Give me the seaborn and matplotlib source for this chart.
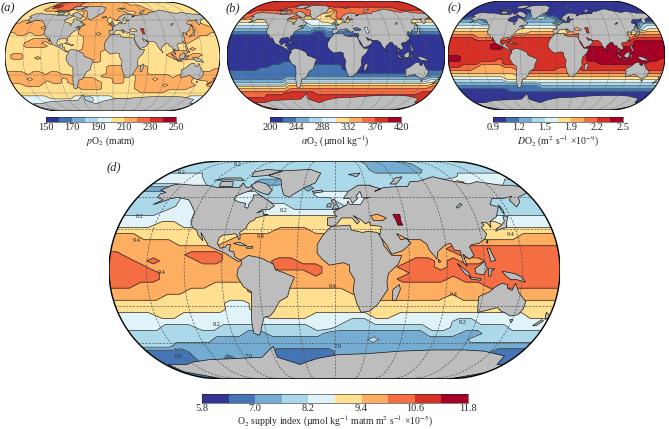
import numpy as np
import matplotlib
matplotlib.use("Agg")
import matplotlib.pyplot as plt
from matplotlib.colors import ListedColormap
from matplotlib.patches import Polygon
import seaborn as sns

W, H = 669, 429
CENTER_LON = -3

COLORS = ["#313695", "#4575b4", "#74add1", "#abd9e9", "#e0f3f8",
          "#fee090", "#fdae61", "#f46d43", "#d73027", "#a50026"]
LAND = "#bdbdbd"

LATS = np.arange(87.5, -90, -5.0)
LONS = np.arange(-175.0, 180, 10.0)

# class index per 5 deg lat row / 10 deg lon column
GRID_A = [
    "555577777766666666666655555555555555",
    "555588777766666666666666655555555555",
    "555666777566666666655666665555555555",
    "555555565555666666666556666555555555",
    "555555555555666666666666655555555555",
    "555555555555566665665555555555566655",
    "566666655555666665555555555556666655",
    "666666665555566666555555555556666665",
    "666665665555666666555555555556656666",
    "666666655555666666555555555556666666",
    "566566555555666566555555555556666665",
    "555555555555566666655555555556666555",
    "555566665555566665555555555556665555",
    "555666565555566665555555555555655555",
    "555666655555566665555555555555555555",
    "555555555555566665555555555555565555",
    "555555555555666655555555555566655555",
    "566555555555666655555555555666566555",
    "566556555555666655555555555566665555",
    "555555555555666655555555555555555555",
    "555555555555565555555555555555555555",
    "555555555555555556665566555555555555",
    "555555555555555556665666555555555556",
    "666566566555555556665666555555556666",
    "666666666665555566665566666656666666",
    "666566666566666555665566656666665666",
    "666666566566666655665566666666665556",
    "556665555556666655555566666566666556",
    "555555555555666655555566666666665555",
    "555555555555555555555556666655555555",
    "555555555555555555555555555555555555",
    "444445555544334444555555555555555444",
    "444444444443334444444444555555544444",
    "444444444444444444444444444444444444",
    "444444444444444444444444444444444444",
    "444444444444444444444444444444444444",
]
GRID_B = [
    "888888888888888888888888888888888888",
    "888888888777778888888888888888888888",
    "888888877777766667777777777777788888",
    "877777777777777665777777777777777777",
    "777777777777765556777777777777777777",
    "766666777775555556777777777766666677",
    "555555555554444555555555555556665555",
    "444444445533344445555555555555444444",
    "333333333333233333333333333333333333",
    "222222222222221122222222222222222222",
    "111111111111110011111111122111111111",
    "000000000000000011110000000000000000",
    "000000000000000000000000000000000000",
    "000000000000000000000000000000000000",
    "000000000000000000000000000000000000",
    "000000000000000000000000000000000000",
    "000000000000000000000000000000000000",
    "000000000000000000000000000000000000",
    "000000000000000000000000000000000000",
    "000000000000000000000000000000000000",
    "000000000110000000000000000000000000",
    "000000011110111111100000000000000000",
    "000001111111111111100000000000000000",
    "111111111111111111111000000000011111",
    "111111111111111111111111111111111111",
    "111111111222222222222222222222222233",
    "222222222333333333333333333333333344",
    "333333333555555555555555555555555556",
    "555555555666666666666666666666666667",
    "666666666777777777777777777777777777",
    "777777778888887777777777777777777788",
    "777788888888888888888888888888888888",
    "888888888888888888888888888888888888",
    "888888888888888888888888888888888888",
    "888888888888888888888888888888888888",
    "888888888888888888888888888888888888",
]
GRID_C = [
    "000000000000000000000000000000000000",
    "000000000000000000000000000000000000",
    "000000000000000000000000000000000000",
    "000000000000011000000000000000000000",
    "000000000000122100000000000000000000",
    "011110000000123321000000000000000000",
    "222210000001222222100000000000000000",
    "333322222222333333222222222211100233",
    "444444444443444444333333333333111344",
    "555555555555555555555555555554333455",
    "666666655555566666556666666555556666",
    "777766666667777777777777777776667777",
    "888877777788888888888888888777788888",
    "888888888888888888888888888888899999",
    "888888899888888888888888889988899999",
    "888888899888888888888889999999999999",
    "888888888888888888888889999999999999",
    "888888888888888888888889999999999999",
    "998888888888888888888889999999999999",
    "998888887888888888888889999999999998",
    "888887777888888888888888899999999888",
    "887776666777888888888888888888888888",
    "777766666667788888777788888888888888",
    "666666666666777777777777777777777777",
    "555555555556666666666666666666666666",
    "444444444555555555555555555555555555",
    "333333333444444444444444444444444444",
    "222222222222222333333333333333333333",
    "111111111111111222222222222222222222",
    "000000000111111111111111111111111111",
    "000000000000000000000000000000000000",
    "000000000000000000000000000000000000",
    "000000000000000000000000000000000000",
    "000000000000000000000000000000000000",
    "000000000000000000000000000000000000",
    "000000000000000000000000000000000000",
]
GRID_D = [
    "333333333333333333333322222233333333",
    "333333333333333333333322222233333333",
    "444433333333333333333333333333344444",
    "444443333322233333333333333344544443",
    "222444333333333233334433333333333333",
    "333344444443333344444443333333333333",
    "333344444444333333444444444333333333",
    "333344444444443333344444444444433333",
    "333444444444444444444444444444433333",
    "444444444445555555555555554444444444",
    "444554444455555555555555555555554444",
    "555555555555566655555555555555555555",
    "665555555566666666666666666655555666",
    "666665555666666666666666666666666666",
    "666666666666666666666666666777777777",
    "766666777666666666666666666677777777",
    "776766677666677666666666776766777777",
    "777666666666677776666667776777777777",
    "777766666666666676666666777777777777",
    "777766666666666666666667777677777777",
    "776666665556666666666666666666777777",
    "666666555556655555566666666666666666",
    "666655555555555555555666666566666666",
    "555555555445555555555555555555555555",
    "555555555445555555555555555555555555",
    "444554444444555544444554444444444455",
    "444444444444444444433444444433444444",
    "444333443333333344333333334433333444",
    "333333333322333332222222223332233333",
    "333333322222222222222322222222333333",
    "333222222222222222222222222222222222",
    "111122222222111111222222222222222111",
    "111122212221111111222222222222222111",
    "111122222221111111222222222222222111",
    "111122222221111111222222222222222111",
    "111122222221111111222222222222222111",
]

TICKS_A = ["150", "170", "190", "210", "230", "250"]
TICKS_B = ["200", "244", "288", "332", "376", "420"]
TICKS_C = ["0.9", "1.2", "1.5", "1.9", "2.2", "2.5"]
TICKS_D = ["5.8", "7.0", "8.2", "9.4", "10.6", "11.8"]

# land outlines as lon, lat
NORTH_AMERICA = [(-168, 66), (-162, 70), (-156, 71), (-141, 70), (-128, 70), (-115, 68), (-108, 68),
                 (-95, 68), (-94, 72), (-88, 68), (-82, 69), (-81, 66), (-87, 64), (-94, 61), (-94, 58),
                 (-88, 56), (-82, 55), (-82, 52), (-79, 51), (-79, 55), (-77, 58), (-78, 62), (-72, 62),
                 (-66, 59), (-62, 57), (-56, 53), (-60, 50), (-66, 50), (-70, 47), (-65, 49), (-64, 46),
                 (-60, 46), (-66, 44), (-70, 43), (-71, 41), (-74, 40), (-76, 37), (-76, 35), (-81, 31),
                 (-80, 26), (-81, 25), (-83, 29), (-85, 30), (-90, 29), (-94, 29), (-97, 27), (-98, 22),
                 (-95, 18), (-91, 19), (-90, 21), (-87, 21), (-88, 16), (-84, 15), (-83, 11), (-80, 9),
                 (-77, 8), (-80, 7), (-85, 10), (-91, 14), (-96, 16), (-105, 20), (-109, 26), (-113, 31),
                 (-110, 24), (-115, 29), (-117, 33), (-121, 35), (-124, 40), (-124, 48), (-130, 54),
                 (-135, 58), (-146, 60), (-152, 59), (-158, 56), (-164, 54), (-158, 58), (-165, 60),
                 (-165, 63), (-161, 64)]
GREENLAND = [(-73, 78), (-60, 82), (-30, 83), (-18, 80), (-22, 72), (-32, 68), (-42, 62), (-44, 60),
             (-50, 62), (-54, 68), (-58, 75)]
BAFFIN = [(-80, 73), (-70, 71), (-62, 66), (-65, 62), (-72, 64), (-78, 66), (-85, 70)]
VICTORIA = [(-117, 73), (-105, 73), (-102, 69), (-115, 69)]
ELLESMERE = [(-90, 77), (-75, 78), (-62, 82), (-80, 83), (-92, 81)]
BANKS = [(-125, 74), (-116, 76), (-100, 76), (-95, 74), (-112, 74.5)]
ICELAND = [(-24, 65), (-15, 66), (-14, 64.5), (-22, 63.5)]
SOUTH_AMERICA = [(-78, 8), (-72, 12), (-62, 10), (-52, 5), (-50, 0), (-44, -2), (-35, -6), (-39, -15),
                 (-41, -22), (-48, -26), (-53, -34), (-57, -38), (-62, -39), (-65, -45), (-68, -52),
                 (-70, -54), (-74, -52), (-73, -40), (-71, -30), (-70, -18), (-76, -14), (-81, -5),
                 (-80, 1), (-77, 5)]
AFRICA = [(-6, 36), (10, 37), (11, 33), (20, 31), (25, 32), (32, 31), (35, 28), (37, 20), (43, 12),
          (51, 12), (48, 5), (40, -3), (39, -10), (40, -16), (35, -24), (32, -29), (26, -34), (19, -35),
          (15, -27), (12, -17), (13, -8), (9, -1), (9, 4), (4, 6), (-7, 4), (-13, 9), (-17, 14),
          (-17, 21), (-13, 28)]
EURASIA = [(-9, 37), (-9, 43), (-1, 44), (-4, 48), (2, 51), (8, 54), (9, 57), (11, 54), (20, 54), (24, 59),
           (30, 60), (22, 60), (21, 65), (17, 61), (18, 59), (13, 55), (11, 59), (5, 59), (10, 65), (20, 70),
           (30, 70), (41, 67), (35, 65), (44, 68), (60, 69), (68, 69), (73, 73), (80, 73), (100, 77),
           (113, 74), (130, 71), (140, 73), (160, 70), (170, 70), (182, 68), (178, 64), (165, 60), (163, 56),
           (157, 52), (155, 58), (160, 61), (150, 59), (140, 59), (135, 54), (141, 52), (135, 44), (128, 40),
           (127, 35), (125, 39), (120, 39), (122, 37), (119, 35), (122, 30), (120, 26), (114, 22), (108, 21),
           (106, 19), (109, 12), (105, 9), (100, 13), (103, 3), (100, 6), (98, 16), (94, 16), (91, 22),
           (87, 21), (80, 15), (79, 9), (73, 17), (72, 21), (67, 25), (57, 25), (52, 28), (48, 30), (51, 25),
           (56, 26), (59, 22), (52, 16), (43, 13), (39, 21), (34, 28), (36, 36), (27, 37), (26, 40), (23, 38),
           (20, 41), (13, 45), (18, 40), (16, 38), (12, 43), (3, 43), (-1, 38), (-5, 36)]
BRITAIN = [(-5, 50), (1, 51), (-2, 56), (-3, 58.5), (-6, 57), (-3, 54)]
IRELAND = [(-10, 52), (-6, 52), (-6, 55), (-9, 54.5)]
SVALBARD = [(12, 79), (25, 80), (20, 77)]
NOVAYA = [(52, 71), (58, 71), (68, 77), (60, 76)]
MADAGASCAR = [(44, -16), (49, -12), (50, -16), (47, -25), (44, -25)]
SRI_LANKA = [(80, 9), (82, 7), (80.5, 6)]
SUMATRA = [(95, 5.5), (104, -2), (106, -6), (101, -3)]
JAVA = [(105, -6), (114, -7), (114, -8.5), (106, -7.5)]
BORNEO = [(109, 1), (117, 7), (119, 1), (116, -4), (110, -3)]
SULAWESI = [(120, 1), (125, 1), (122, -1), (122, -5), (120, -5)]
NEW_GUINEA = [(131, -1), (141, -3), (147, -6), (150, -10), (143, -8), (138, -8), (133, -4)]
PHILIPPINES = [(120, 18), (122, 18), (124, 12), (126, 8), (122, 7), (121, 13)]
TAIWAN = [(120, 23), (122, 25), (121, 22)]
JAPAN = [(130, 32), (135, 34), (140, 35), (142, 40), (145, 44), (141, 45), (140, 40), (135, 36), (131, 34)]
SAKHALIN = [(142, 54), (143.5, 50), (143, 46), (142, 48)]
CUBA = [(-85, 22), (-80, 23), (-74, 20), (-78, 20)]
HISPANIOLA = [(-74, 19), (-69, 19.5), (-69, 18), (-74, 18)]
AUSTRALIA = [(114, -22), (122, -18), (126, -14), (131, -11), (136, -12), (136, -15), (140, -17), (142, -11),
             (146, -19), (153, -26), (153, -32), (150, -37), (144, -38), (138, -35), (135, -34), (131, -31),
             (124, -33), (116, -35), (115, -31)]
TASMANIA = [(145, -41), (148, -41), (147, -43.5)]
NZ_NORTH = [(173, -35), (178, -38), (175, -41), (174, -39)]
NZ_SOUTH = [(172, -41), (174, -42), (170, -46), (167, -46)]
ANTARCTICA = [(-180, -78), (-160, -78), (-150, -76), (-130, -74), (-100, -73), (-75, -72), (-60, -63),
              (-60, -72), (-40, -78), (-20, -73), (0, -70), (30, -69), (60, -67), (90, -66), (120, -66),
              (140, -67), (165, -71), (170, -78), (180, -78), (180, -90), (-180, -90)]
LAND_SHAPES = [NORTH_AMERICA, GREENLAND, BAFFIN, VICTORIA, ELLESMERE, BANKS, ICELAND, SOUTH_AMERICA,
               AFRICA, EURASIA, BRITAIN, IRELAND, SVALBARD, NOVAYA, MADAGASCAR, SRI_LANKA, SUMATRA, JAVA,
               BORNEO, SULAWESI, NEW_GUINEA, PHILIPPINES, TAIWAN, JAPAN, SAKHALIN, CUBA, HISPANIOLA,
               AUSTRALIA, TASMANIA, NZ_NORTH, NZ_SOUTH, ANTARCTICA]
CASPIAN = [(47, 46), (53, 46), (53, 40), (54, 37), (50, 37), (49, 41)]
BLACK_SEA = [(28, 45), (34, 46), (41, 43), (38, 41), (30, 41)]
LAKE = [(104, 52), (109, 55), (110, 54), (105, 51)]

D_LABELS = [("8.2", 238, 165), ("8.2", 182, 173), ("8.2", 140, 216), ("8.2", 284, 210), ("8.2", 217, 325),
            ("8.2", 463, 323), ("9.4", 261, 236), ("9.4", 137, 240), ("9.4", 162, 273), ("9.4", 511, 235),
            ("9.4", 333, 286), ("9.4", 454, 294), ("7.0", 177, 356), ("7.0", 248, 356), ("7.0", 337, 346)]


def project(lon, lat):
    lon = np.asarray(lon, float)
    lat = np.asarray(lat, float)
    t = 2 * lat / 180
    return lon / 180 * (1 + np.sqrt(np.clip(1 - t ** 2, 0, 1))) / 2, t


def rect(l, t, r, b):
    return [l / W, 1 - b / H, (r - l) / W, (b - t) / H]


def densify(shape):
    pts = np.array(shape + shape[:1], float)
    out = []
    for p, q in zip(pts[:-1], pts[1:]):
        n = max(int(np.abs(q - p).max() // 5), 1)
        out.extend(p + (q - p) * i / n for i in range(n))
    return np.array(out)


def draw_map(fig, box, rows, lo, hi, lw, dashes, gcolor, seas):
    ax = fig.add_axes(rect(*box))
    ax.set_xlim(-1, 1)
    ax.set_ylim(-1, 1)
    ax.axis("off")

    lats = np.r_[90, LATS, -90]
    lons = np.r_[-180, LONS, 180]
    classes = np.array([[int(c) for c in r.ljust(36, r[-1])[:36]] for r in rows], float)
    classes = np.pad(classes, 1, mode="edge")
    levels = np.linspace(lo, hi, 11)
    values = lo + (classes + 0.5) * (hi - lo) / 10
    lon2, lat2 = np.meshgrid(lons, lats)
    x, y = project(lon2, lat2)

    edge_lat = np.linspace(-90, 90, 181)
    ex, ey = project(np.full_like(edge_lat, 180), edge_lat)
    outline = np.c_[np.r_[ex, -ex[::-1]], np.r_[ey, ey[::-1]]]
    frame = Polygon(outline, closed=True, fill=False, ec="black", lw=lw * 2, zorder=6)
    ax.add_patch(frame)

    cf = ax.contourf(x, y, values, levels=levels, colors=COLORS, zorder=1)
    cf.set_clip_path(frame)
    cl = ax.contour(x, y, values, levels=levels, colors="#2a2a2a", linewidths=lw, zorder=2)
    cl.set_clip_path(frame)

    for shape in LAND_SHAPES:
        pts = densify(shape)
        px, py = project(pts[:, 0] - CENTER_LON, pts[:, 1])
        for p in ax.fill(px, py, fc=LAND, ec="#111111", lw=lw, zorder=3):
            p.set_clip_path(frame)
    for shape, cls in seas:
        pts = densify(shape)
        px, py = project(pts[:, 0] - CENTER_LON, pts[:, 1])
        ax.fill(px, py, fc=COLORS[cls], ec="#111111", lw=lw, zorder=3.5)

    for m in np.arange(-150, 151, 30):
        gy = np.linspace(-90, 90, 91)
        gx, gyy = project(np.full_like(gy, m), gy)
        ax.plot(gx, gyy, color=gcolor, lw=lw, ls=dashes, zorder=4)
    for p in (-60, -30, 34, 60):
        gx = np.linspace(-180, 180, 181)
        hx, hy = project(gx, np.full_like(gx, p))
        ax.plot(hx, hy, color=gcolor, lw=lw, ls=dashes, zorder=4)
    return ax


def draw_bar(fig, box, ticks, label, label_y, size, label_size):
    cax = fig.add_axes(rect(*box))
    sns.heatmap(np.arange(10).reshape(1, -1), cmap=ListedColormap(COLORS), cbar=False, ax=cax,
                xticklabels=False, yticklabels=False)
    cax.set_xticks(np.arange(0, 11, 2))
    cax.set_xticklabels(ticks, fontsize=size, rotation=0)
    cax.tick_params(axis="x", length=0, pad=1, bottom=False)
    for s in cax.spines.values():
        s.set_visible(True)
        s.set_linewidth(0.4)
        s.set_color("#222222")
    fig.text((box[0] + box[2]) / 2 / W, 1 - label_y / H, label, ha="center", va="center", fontsize=label_size)


def main():
    sns.set_theme(style="white")
    plt.rcParams["font.family"] = ["Liberation Serif", "DejaVu Serif"]
    plt.rcParams["mathtext.fontset"] = "stix"
    fig = plt.figure(figsize=(W / 100, H / 100), dpi=100)

    small = dict(lw=0.35, dashes=(0, (1.5, 1.5)), gcolor="#555555")
    draw_map(fig, (5, 2, 220, 111), GRID_A, 150, 250, seas=[(CASPIAN, 8), (BLACK_SEA, 5), (LAKE, 5)], **small)
    draw_map(fig, (227, 1, 445, 110), GRID_B, 200, 420, seas=[(CASPIAN, 4), (BLACK_SEA, 1), (LAKE, 5)], **small)
    draw_map(fig, (448, 1, 665, 110), GRID_C, 0.9, 2.5, seas=[(CASPIAN, 8), (BLACK_SEA, 6), (LAKE, 1)], **small)
    draw_map(fig, (109, 161, 560, 379), GRID_D, 5.8, 11.8, lw=0.5, dashes=(0, (3, 2)), gcolor="#555555",
             seas=[(CASPIAN, 9), (BLACK_SEA, 6), (LAKE, 3)])

    draw_bar(fig, (46, 117, 176, 122), TICKS_A, r"$p$O$_2$ (matm)", 141, 7.5, 7)
    draw_bar(fig, (270, 117, 401, 122), TICKS_B, r"$\alpha$O$_2$ (µmol kg$^{-1}$)", 141, 7.5, 7)
    draw_bar(fig, (493, 117, 623, 122), TICKS_C, r"$D$O$_2$ (m$^2$ s$^{-1}$ ×10$^{-9}$)", 141, 7.5, 7)
    draw_bar(fig, (202, 394, 468, 403), TICKS_D,
             r"O$_2$ supply index (µmol kg$^{-1}$ matm m$^2$ s$^{-1}$ ×10$^{-5}$)", 421, 7.5, 7)

    for letter, px, py in [("(a)", 1, 8), ("(b)", 226, 8), ("(c)", 448, 8), ("(d)", 107, 167)]:
        fig.text(px / W, 1 - py / H, letter, style="italic", fontsize=9, va="center", ha="left")
    for txt, px, py in D_LABELS:
        fig.text(px / W, 1 - py / H, txt, fontsize=4.5, ha="center", va="center", color="#222222", zorder=10)

    fig.savefig("out.png", dpi=100)
    plt.close(fig)


if __name__ == "__main__":
    main()
